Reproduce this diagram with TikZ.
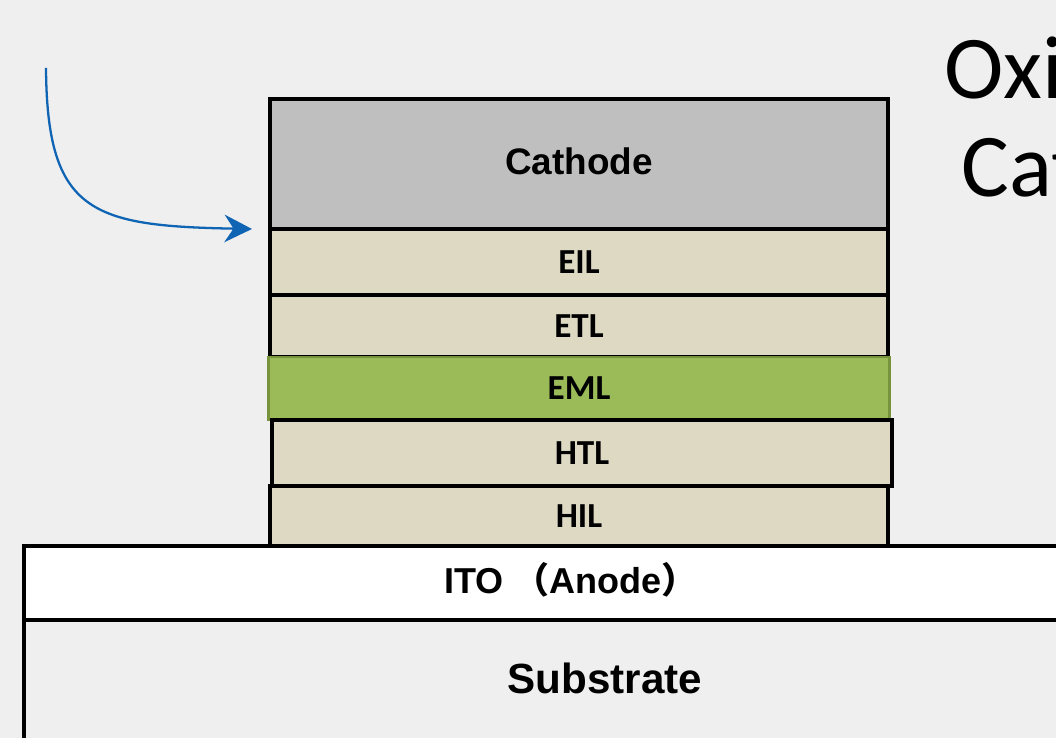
\documentclass[tikz,border=0pt]{standalone}
\usepackage{fontspec}
\setmainfont{Liberation Sans}
\newfontfamily\calibri{Carlito}
\newfontfamily\cjk{Noto Sans CJK SC}
\usetikzlibrary{positioning,arrows.meta}
\definecolor{bggray}{HTML}{EFEFEF}
\definecolor{cathodegray}{HTML}{BFBFBF}
\definecolor{layertan}{HTML}{DDD9C3}
\definecolor{emlgreen}{HTML}{9BBB59}
\definecolor{emlborder}{HTML}{77933C}
\definecolor{arrowblue}{RGB}{16,100,180}
\begin{document}
\begin{tikzpicture}[
    layer/.style={draw, line width=2.3pt, fill=layertan, minimum width=12.36cm,
        inner sep=0pt, outer sep=0pt, font=\calibri\bfseries\fontsize{20}{24}\selectfont},
    arrowline/.style={draw=arrowblue, line width=1.3pt, -{Stealth[length=0.55cm, width=0.55cm, inset=0.18cm]}},
    node distance=0pt]
    \fill[bggray] (0,0) rectangle (21.12,14.76);
    \useasboundingbox (0,0) rectangle (21.12,14.76);
    % the layer stack
    \node[layer, fill=cathodegray, minimum height=2.6cm, font=\bfseries\fontsize{21}{24}\selectfont] (cathode) at (11.58,11.48) {\raisebox{0.12cm}{Cathode}};
    \node[layer, minimum height=1.32cm, below=of cathode] (eil) {EIL};
    \node[layer, minimum height=1.24cm, below=of eil] (etl) {ETL};
    \node[layer, fill=emlgreen, draw=emlborder, line width=1.2pt, minimum width=12.42cm, minimum height=1.26cm, below=of etl] (eml) {EML};
    \node[layer, minimum width=12.4cm, minimum height=1.32cm, below=of eml, xshift=0.06cm] (htl) {HTL};
    \node[layer, minimum height=1.2cm, below=of htl, xshift=-0.06cm] (hil) {HIL};
    \node[layer, fill=white, minimum width=21.88cm, minimum height=1.48cm, below=of hil, xshift=-0.16cm,
        font=\bfseries\fontsize{20.5}{22}\selectfont] (ito) {\raisebox{0.22cm}{ITO {\cjk （}Anode{\cjk ）}}};
    \node[layer, draw=none, fill=none, minimum width=23.24cm, minimum height=2.32cm, below=of ito, xshift=0.68cm,
        font=\bfseries\fontsize{24}{28}\selectfont] (substrate) {Substrate};
    \draw[line width=2.3pt] (substrate.north west) -- ++(0,-3);
    % cut-off title at the right
    \node[anchor=base west, inner sep=0pt, font=\calibri\fontsize{51}{60}\selectfont] (oxi) at (18.88,12.78) {Oxi};
    \node[anchor=base west, inner sep=0pt, font=\calibri\fontsize{51}{60}\selectfont] (cat) at (19.22,10.82) {Cat};
    % arrow to the cathode interface
    \coordinate (arrowstart) at (0.92,13.40);
    \coordinate[left=0.36cm of cathode.south west] (arrowtip);
    \draw[arrowline] (arrowstart) .. controls +(0.02,-2.9) and +(-3.2,0.06) .. (arrowtip);
\end{tikzpicture}
\end{document}
